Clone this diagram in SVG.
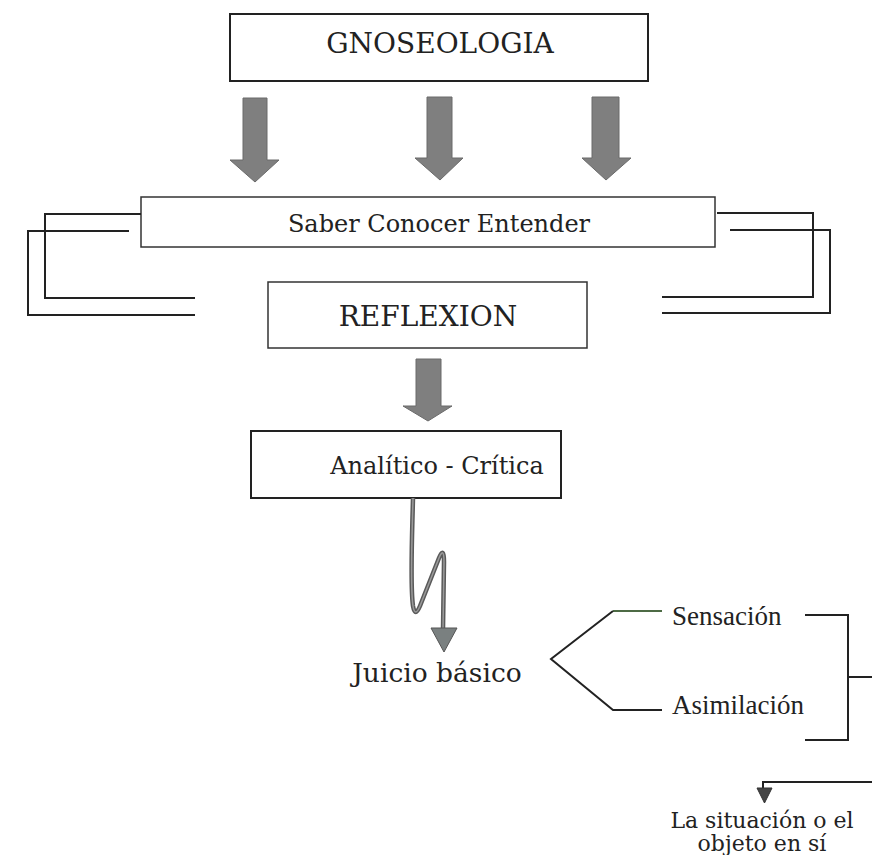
<svg xmlns="http://www.w3.org/2000/svg" width="872" height="855" viewBox="0 0 872 855">
<style>
.box{fill:#fff;stroke:#333;stroke-width:1.5}
.boxt{fill:#fff;stroke:#222;stroke-width:2}
.t{font-family:"DejaVu Serif","Liberation Serif",serif;fill:#222;text-anchor:middle}
.tm{font-family:"Liberation Serif","Times New Roman",serif;fill:#222}
.ln{fill:none;stroke:#222;stroke-width:2}
.blk{fill:#7f7f7f;stroke:#6a6a6a;stroke-width:1}
</style>
<rect width="872" height="855" fill="#fff"/>
<g id="gnoseologia">
<rect class="boxt" x="230" y="14" width="418" height="67"/>
<text class="t" x="440" y="53" font-size="28">GNOSEOLOGIA</text>
</g>
<g id="saber">
<rect class="box" x="141" y="197" width="574" height="50"/>
<text class="t" x="439" y="232" font-size="24">Saber Conocer Entender</text>
</g>
<g id="reflexion">
<rect class="box" x="268" y="282" width="319" height="66"/>
<text class="t" x="428" y="326" font-size="28">REFLEXION</text>
</g>
<g id="analitico">
<rect class="boxt" x="251" y="431" width="310" height="67"/>
<text class="t" x="437" y="474" font-size="24">Analítico - Crítica</text>
</g>
<g id="juicio">
<text class="t" x="437" y="682" font-size="26.5">Juicio básico</text>
</g>
<g id="sensacion">
<text class="tm" x="672" y="625" font-size="27">Sensación</text>
</g>
<g id="asimilacion">
<text class="tm" x="672" y="714" font-size="27">Asimilación</text>
</g>
<g id="situacion">
<text class="t" x="762" y="828" font-size="22">La situación o el</text>
<text class="t" x="762" y="851" font-size="22">objeto en sí</text>
</g>
<g id="connectors">
<polygon class="blk" points="243,98 267,98 267,160 279,160 255,182 230,160 243,160"/>
<polygon class="blk" points="427,97 452,97 452,158 463,158 440,180 415,158 427,158"/>
<polygon class="blk" points="592,97 619,97 619,158 631,158 606,180 582,158 592,158"/>
<polygon class="blk" points="416,359 441,359 441,406 452,406 428,421 403,406 416,406"/>
<path class="ln" d="M141,214 H45 V298 H195"/>
<path class="ln" d="M129,231 H28 V315 H195"/>
<path class="ln" d="M717,213 H813 V297 H662"/>
<path class="ln" d="M730,230 H830 V313 H662"/>
<path d="M413,498 C412,540 410,585 413,606 Q415,618 420,606 L439,558 Q444,546 444,562 L443,630" fill="none" stroke="#5a5a5a" stroke-width="4.5"/>
<path d="M413,498 C412,540 410,585 413,606 Q415,618 420,606 L439,558 Q444,546 444,562 L443,630" fill="none" stroke="#9a9a9a" stroke-width="1.5"/>
<polygon points="431,628 457,628 444,652" fill="#7a8080" stroke="#555" stroke-width="1"/>
<path d="M613,611 H662" fill="none" stroke="#4d6b45" stroke-width="2"/>
<path class="ln" d="M613,611 L551,659 L613,710 H662"/>
<path class="ln" d="M805,615 H848 V740 H805 M848,677 H872"/>
<path class="ln" d="M872,782 H763 V790"/>
<polygon points="757,788 772,788 764.5,803" fill="#444" stroke="#333" stroke-width="1"/>
</g>
</svg>
